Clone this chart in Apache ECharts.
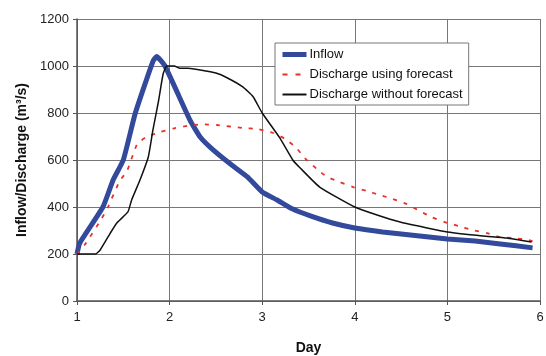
<!DOCTYPE html>
<html>
<head>
<meta charset="utf-8">
<script src="https://cdn.jsdelivr.net/npm/echarts@6/dist/echarts.min.js"></script>
<style>
  html, body { margin: 0; padding: 0; background: #fff; }
  #chart { width: 546px; height: 356px; }
</style>
</head>
<body>
<div id="chart"></div>
<script>
// inflow hydrograph
const inflowDays = [1.0, 1.03, 1.28, 1.39, 1.5, 1.63, 1.82, 1.86, 1.95, 2.22, 2.33, 2.47, 2.65, 2.84, 3.0, 3.16, 3.33, 3.52, 3.76, 4.0, 4.3, 4.6, 5.0, 5.3, 5.57, 5.92];
const inflowVals = [200, 247, 400, 515, 600, 800, 1020, 1040, 1000, 770, 698, 643, 585, 528, 464, 430, 391, 362, 332, 311, 294, 281, 264, 255, 243, 226];

// discharge using forecast
const fcDays = [1.0, 1.09, 1.25, 1.33, 1.46, 1.54, 1.65, 1.75, 1.9, 2.05, 2.19, 2.35, 2.51, 2.79, 2.95, 3.12, 3.25, 3.37, 3.46, 3.59, 3.7, 3.84, 3.98, 4.13, 4.27, 4.41, 4.56, 4.7, 4.83, 4.97, 5.12, 5.27, 5.43, 5.57, 5.71, 5.87, 5.92];
const fcVals = [200, 243, 340, 396, 510, 553, 668, 698, 719, 735, 745, 752, 749, 736, 732, 715, 689, 651, 608, 562, 528, 506, 485, 468, 451, 434, 413, 383, 357, 336, 319, 302, 289, 272, 268, 260, 255];

// discharge without forecast
const noFcDays = [1.0, 1.2, 1.25, 1.36, 1.43, 1.55, 1.59, 1.68, 1.77, 1.82, 1.88, 1.93, 1.97, 2.05, 2.11, 2.2, 2.33, 2.5, 2.62, 2.79, 2.9, 3.0, 3.19, 3.33, 3.41, 3.62, 4.0, 4.24, 4.49, 4.78, 5.0, 5.38, 5.64, 5.91];
const noFcVals = [200, 200, 217, 289, 332, 379, 430, 515, 613, 728, 850, 966, 1000, 1000, 990, 990, 983, 970, 950, 911, 870, 800, 694, 600, 566, 485, 400, 366, 336, 311, 294, 277, 268, 251];

const seriesNames = ['Inflow', 'Discharge using forecast', 'Discharge without forecast'];
const colors = ['#32499c', '#e8302c', '#111'];

const zip = (xs, ys) => xs.map((x, i) => [x, ys[i]]);

const chart = echarts.init(document.getElementById('chart'), null, { renderer: 'canvas' });

const axisFont = { fontFamily: 'Liberation Sans, Arial, sans-serif', fontSize: 13, color: '#222' };

chart.setOption({
  animation: false,
  grid: { left: 77, top: 19, width: 463, height: 282, outerBoundsMode: 'none' },
  legend: {
    orient: 'vertical',
    left: 275,
    top: 43,
    data: [
      { name: seriesNames[0], lineStyle: { width: 5, color: colors[0] } },
      { name: seriesNames[1], lineStyle: { width: 2, color: colors[1], type: [5, 8] } },
      { name: seriesNames[2], lineStyle: { width: 2, color: colors[2] } }
    ],
    backgroundColor: '#fff',
    borderColor: '#777',
    borderWidth: 1,
    padding: [5, 6, 4, 5],
    itemGap: 7,
    itemWidth: 24,
    itemHeight: 14,
    itemStyle: { opacity: 0 },
    textStyle: { fontFamily: 'Liberation Sans, Arial, sans-serif', fontSize: 13, color: '#111', padding: [0, 0, 0, -2] }
  },
  xAxis: {
    type: 'value',
    min: 1,
    max: 6,
    interval: 1,
    name: 'Day',
    nameLocation: 'middle',
    nameGap: 40,
    nameTextStyle: { fontFamily: 'Liberation Sans, Arial, sans-serif', fontSize: 14, fontWeight: 'bold', color: '#111' },
    axisLine: { lineStyle: { color: '#555', width: 1.5 } },
    axisTick: { show: true, length: 4, lineStyle: { color: '#555' } },
    axisLabel: Object.assign({ margin: 10 }, axisFont),
    splitLine: { show: true, lineStyle: { color: '#777', width: 1 } }
  },
  yAxis: {
    type: 'value',
    min: 0,
    max: 1200,
    interval: 200,
    name: 'Inflow/Discharge (m³/s)',
    nameLocation: 'middle',
    nameGap: 46,
    nameTextStyle: { fontFamily: 'Liberation Sans, Arial, sans-serif', fontSize: 14, fontWeight: 'bold', color: '#111' },
    axisLine: { show: true, lineStyle: { color: '#555', width: 1.5 } },
    axisTick: { show: true, length: 4, lineStyle: { color: '#555' } },
    axisLabel: Object.assign({ margin: 8, formatter: (v) => String(v) }, axisFont),
    splitLine: { show: true, lineStyle: { color: '#777', width: 1 } }
  },
  series: [
    {
      name: seriesNames[0],
      type: 'line',
      data: zip(inflowDays, inflowVals),
      showSymbol: false,
      symbol: 'none',
      smooth: 0.15,
      z: 3,
      lineStyle: { color: colors[0], width: 5 },
      itemStyle: { color: colors[0] }
    },
    {
      name: seriesNames[1],
      type: 'line',
      data: zip(fcDays, fcVals),
      showSymbol: false,
      symbol: 'none',
      smooth: 0.15,
      z: 4,
      lineStyle: { color: colors[1], width: 1.8, type: [4, 7] },
      itemStyle: { color: colors[1] }
    },
    {
      name: seriesNames[2],
      type: 'line',
      data: zip(noFcDays, noFcVals),
      showSymbol: false,
      symbol: 'none',
      smooth: 0.15,
      z: 5,
      lineStyle: { color: colors[2], width: 1.5 },
      itemStyle: { color: colors[2] }
    }
  ]
});
</script>
</body>
</html>
